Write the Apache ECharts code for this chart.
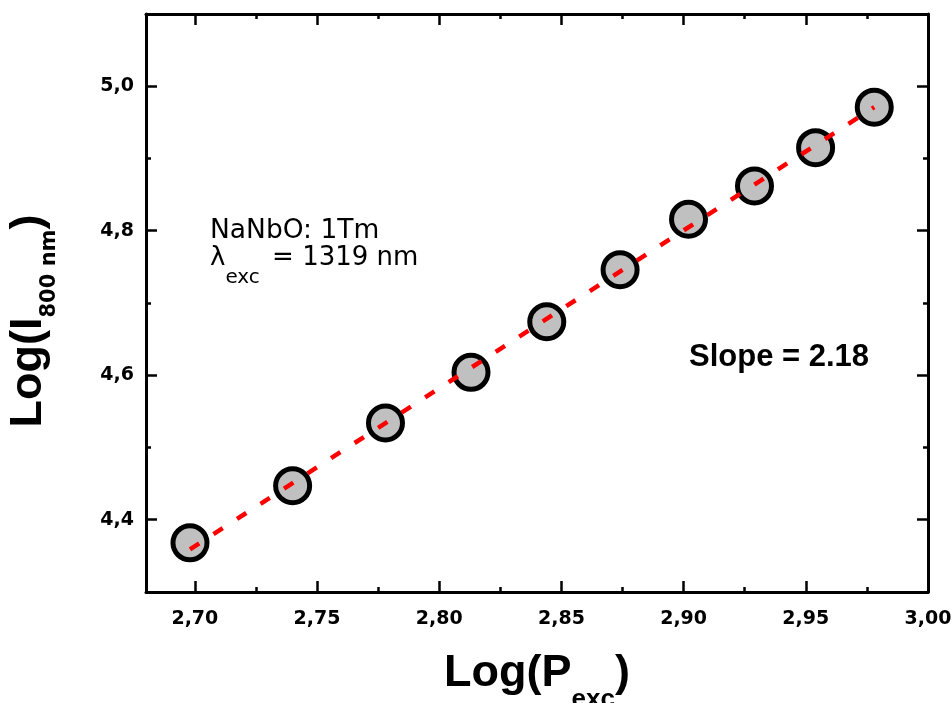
<!DOCTYPE html>
<html><head><meta charset="utf-8">
<script src="https://cdn.jsdelivr.net/npm/echarts@6/dist/echarts.min.js"></script>
<style>html,body{margin:0;padding:0;background:#fff}#c{width:952px;height:703px}</style>
</head><body><div id="c"></div>
<script>
// Data
const logP = [2.698, 2.740, 2.778, 2.813, 2.844, 2.874, 2.902, 2.929, 2.954, 2.978];
const logI = [4.368, 4.447, 4.534, 4.604, 4.674, 4.746, 4.816, 4.862, 4.915, 4.971];
const fitX = [2.698, 2.978];
const fitY = [4.359, 4.971];
const xMajor = [2.70, 2.75, 2.80, 2.85, 2.90, 2.95, 3.00];
const xMinor = [2.725, 2.775, 2.825, 2.875, 2.925, 2.975];
const yMajor = [4.4, 4.6, 4.8, 5.0];
const yMinor = [4.5, 4.7, 4.9];
const xRange = [2.68, 3.00];
const yRange = [4.3, 5.1];

const chart = echarts.init(document.getElementById('c'), null, {renderer: 'canvas'});

const tickFont = {fontFamily: '"DejaVu Sans"', fontSize: 19, fontWeight: 'bold', color: '#000'};

function mkAxis(kind, pos, vals, len, withLabel, withLine, extra) {
  const range = kind === 'x' ? xRange : yRange;
  const ax = {
    type: 'value', position: pos, min: range[0], max: range[1],
    axisLine: {show: withLine, onZero: false, lineStyle: {color: '#000', width: 3}},
    axisTick: {show: true, inside: true, length: len, customValues: vals, lineStyle: {color: '#000', width: 2.5}},
    axisLabel: withLabel ? Object.assign({
      show: true, customValues: vals, hideOverlap: false,
      margin: kind === 'x' ? 18 : 12,
      formatter: v => (kind === 'x' ? v.toFixed(2) : v.toFixed(1)).replace('.', ',')
    }, tickFont) : {show: false},
    splitLine: {show: false}
  };
  return Object.assign(ax, extra || {});
}

const xAxes = [
  mkAxis('x', 'bottom', xMajor, 11, true, true, {
    name: '{m|Log(P}{s|exc}{m|)}', nameLocation: 'middle', nameGap: 43,
    nameTextStyle: {rich: {
      m: {fontFamily: '"Liberation Sans", Arial', fontWeight: 'bold', fontSize: 45, color: '#000'},
      s: {fontFamily: '"Liberation Sans", Arial', fontWeight: 'bold', fontSize: 26, color: '#000', padding: [52, 0, 0, 0]}
    }}
  }),
  mkAxis('x', 'bottom', xMinor, 5, false, false),
  mkAxis('x', 'top', xMajor, 11, false, true),
  mkAxis('x', 'top', xMinor, 5, false, false)
];
const yAxes = [
  mkAxis('y', 'left', yMajor, 11, true, true, {
    name: '{m|Log(I}{s|800 nm}{m|)}', nameLocation: 'middle', nameRotate: 90, nameGap: 86,
    nameTextStyle: {padding: [0, 36, 0, 0], rich: {
      m: {fontFamily: '"Liberation Sans", Arial', fontWeight: 'bold', fontSize: 45, color: '#000'},
      s: {fontFamily: '"DejaVu Sans"', fontWeight: 'bold', fontSize: 21, color: '#000', padding: [41, 0, 0, 0]}
    }}
  }),
  mkAxis('y', 'left', yMinor, 5, false, false),
  mkAxis('y', 'right', yMajor, 11, false, true),
  mkAxis('y', 'right', yMinor, 5, false, false)
];

chart.setOption({
  animation: false,
  backgroundColor: '#fff',
  grid: {left: 146, right: 24, top: 14, bottom: 111, containLabel: false, outerBoundsMode: 'none'},
  xAxis: xAxes,
  yAxis: yAxes,
  series: [
    {
      type: 'scatter', xAxisIndex: 0, yAxisIndex: 0, z: 2,
      data: logP.map((x, i) => [x, logI[i]]),
      symbol: 'circle', symbolSize: 34,
      itemStyle: {color: '#c0c0c0', borderColor: '#000', borderWidth: 5, opacity: 1},
      emphasis: {disabled: true}
    },
    {
      type: 'line', xAxisIndex: 0, yAxisIndex: 0, z: 3,
      data: fitX.map((x, i) => [x, fitY[i]]),
      symbol: 'none', showSymbol: false,
      lineStyle: {color: '#ff0000', width: 4.5, type: [11, 17], cap: 'butt'},
      emphasis: {disabled: true}
    }
  ],
  graphic: [
    {type: 'text', x: 210, y: 231, z: 10,
     style: {text: 'NaNbO: 1Tm', font: '26.5px "DejaVu Sans"', fill: '#000', align: 'left', verticalAlign: 'middle'}},
    {type: 'text', x: 210, y: 258, z: 10,
     style: {text: '{a|λ}{s|exc}{a| = 1319 nm}', align: 'left', verticalAlign: 'middle',
       rich: {
         a: {fontFamily: '"DejaVu Sans"', fontSize: 26, fill: '#000', color: '#000'},
         s: {fontFamily: '"DejaVu Sans"', fontSize: 20, fill: '#000', color: '#000', padding: [40, 4, 0, 0]}
       }}},
    {type: 'text', x: 689, y: 357, z: 10,
     style: {text: 'Slope = 2.18', font: 'bold 31px "Liberation Sans", Arial', fill: '#000', align: 'left', verticalAlign: 'middle'}}
  ]
});
</script>
</body></html>
